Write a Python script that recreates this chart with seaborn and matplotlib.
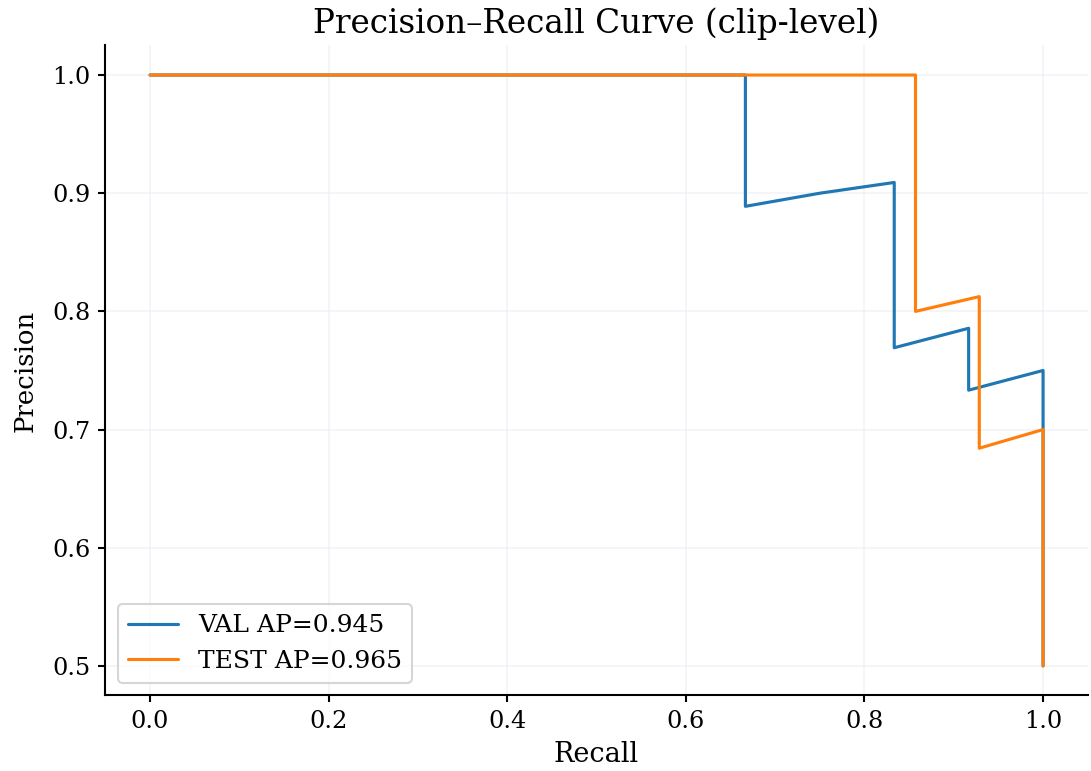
import numpy as np
import pandas as pd
import matplotlib
matplotlib.use("Agg")
import matplotlib.pyplot as plt
import seaborn as sns

# PR curve points (recall, precision)
val_recall = [0.0, 1/12, 2/12, 3/12, 4/12, 5/12, 6/12, 7/12, 8/12, 8/12, 9/12, 10/12,
              10/12, 11/12, 11/12, 1.0, 1.0]
val_precision = [1.0, 1.0, 1.0, 1.0, 1.0, 1.0, 1.0, 1.0, 1.0, 8/9, 9/10, 10/11,
                 10/13, 11/14, 11/15, 12/16, 0.5]

test_recall = [0.0, 2/14, 4/14, 6/14, 8/14, 10/14, 12/14, 12/14, 13/14, 13/14, 1.0, 1.0]
test_precision = [1.0, 1.0, 1.0, 1.0, 1.0, 1.0, 1.0, 12/15, 13/16, 13/19, 14/20, 0.5]

labels = ["VAL AP=0.945", "TEST AP=0.965"]

df = pd.concat([
    pd.DataFrame({"Recall": val_recall, "Precision": val_precision,
                  "split": labels[0], "order": range(len(val_recall))}),
    pd.DataFrame({"Recall": test_recall, "Precision": test_precision,
                  "split": labels[1], "order": range(len(test_recall))}),
])

sns.set_theme(style="ticks")
plt.rcParams["font.family"] = ["DejaVu Serif"]
plt.rcParams.update({
    "text.color": "black", "axes.labelcolor": "black",
    "xtick.color": "black", "ytick.color": "black", "axes.edgecolor": "black",
})

fig, ax = plt.subplots(figsize=(1091 / 150, 771 / 150), dpi=150)
fig.subplots_adjust(left=0.0966, right=0.997, top=0.941, bottom=0.098)

sns.lineplot(data=df, x="Recall", y="Precision", hue="split", units="split",
             estimator=None, sort=False, palette=["#1f77b4", "#ff7f0e"],
             linewidth=1.5, ax=ax)

ax.grid(True, color="#eceef4", alpha=0.7, linewidth=0.8)
ax.set_xticks([0.0, 0.2, 0.4, 0.6, 0.8, 1.0])
ax.set_yticks([0.5, 0.6, 0.7, 0.8, 0.9, 1.0])
ax.tick_params(labelsize=11.5, length=3.5, width=1.0)
ax.set_xlabel("Recall", fontsize=13)
ax.set_ylabel("Precision", fontsize=12.5, labelpad=7)
ax.set_title("Precision–Recall Curve (clip-level)", fontsize=15.7)
for s in ax.spines.values():
    s.set_linewidth(1.0)
sns.despine(ax=ax)
ax.legend(title=None, loc="lower left", fontsize=12)

fig.savefig("out.png", dpi=150)
